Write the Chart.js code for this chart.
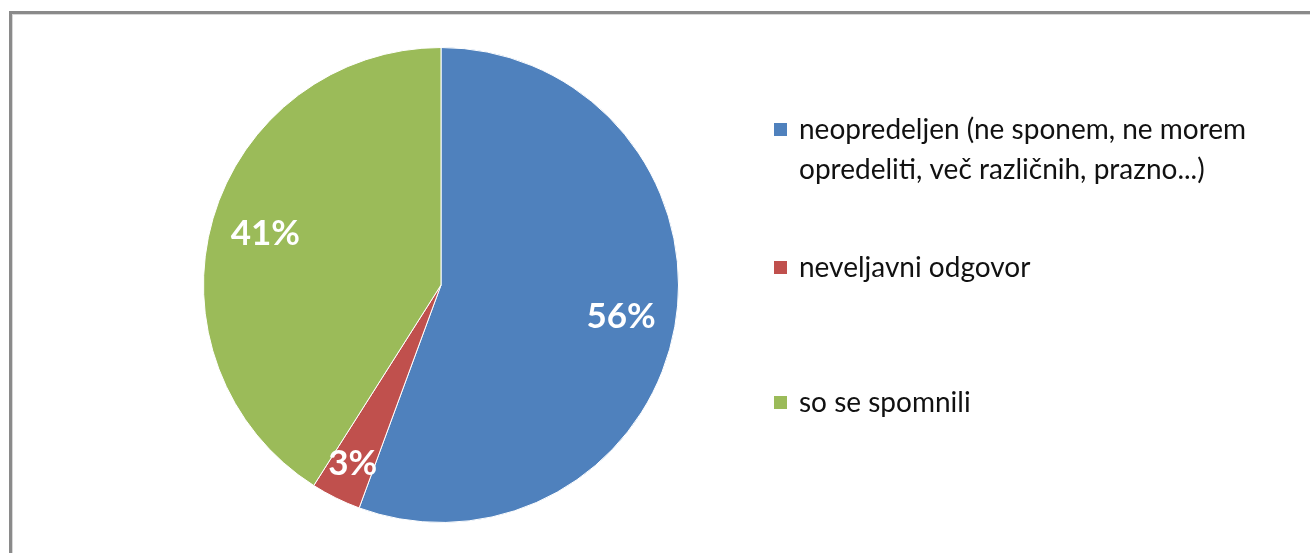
<!DOCTYPE html>
<html>
<head>
<meta charset="utf-8">
<script src="https://cdn.jsdelivr.net/npm/chart.js@4.4.0/dist/chart.umd.min.js"></script>
<style>
    html, body { margin: 0; padding: 0; background: #fff; overflow: hidden; }
    #frame {
        position: absolute;
        left: 9px;
        top: 11px;
        width: 1400px;
        height: 700px;
        border-left: 3px solid #8a8a8a;
        border-top: 3px solid #8a8a8a;
        box-shadow: inset 1px 1px 0 #d8d8d8;
    }
    #wrap { position: absolute; left: 0; top: 0; width: 1310px; height: 553px; }
</style>
</head>
<body>
<div id="frame"></div>
<div id="wrap"><canvas id="pieChart"></canvas></div>
<script>
// categories and values (percent)
const categories = [
    ['neopredeljen (ne sponem, ne morem', 'opredeliti, več različnih, prazno...)'],
    ['neveljavni odgovor'],
    ['so se spomnili'],
];
const shares = [55.6, 3.4, 41.0];
const sliceColors = ['#4f81bd', '#c0504d', '#9bbb59'];

// label distance from centre, as part of radius
const labelPos = [0.77, 0.84, 0.77];

const legendFont = '28px Lato';
const legendY = [130, 268, 403];

// percent labels inside the slices
const sliceLabels = {
    id: 'sliceLabels',
    afterDatasetsDraw(chart) {
        const ctx = chart.ctx;
        const meta = chart.getDatasetMeta(0);
        ctx.save();
        ctx.font = 'bold 35px Lato';
        ctx.fillStyle = '#fff';
        ctx.textAlign = 'center';
        ctx.textBaseline = 'middle';
        meta.data.forEach((arc, i) => {
            const mid = (arc.startAngle + arc.endAngle) / 2;
            const r = arc.outerRadius * labelPos[i];
            const x = arc.x + Math.cos(mid) * r;
            const y = arc.y + Math.sin(mid) * r;
            ctx.fillText(Math.round(shares[i]) + '%', x, y);
        });
        ctx.restore();
    }
};

// legend on the right, first entry wraps over two lines
const sideLegend = {
    id: 'sideLegend',
    afterDraw(chart) {
        const ctx = chart.ctx;
        ctx.save();
        ctx.font = legendFont;
        ctx.textBaseline = 'middle';
        categories.forEach((lines, i) => {
            const y = legendY[i];
            ctx.fillStyle = sliceColors[i];
            ctx.fillRect(774, y - 7, 13, 13);
            ctx.fillStyle = '#111';
            lines.forEach((t, j) => {
                ctx.fillText(t, 799, y + j * 40);
            });
        });
        ctx.restore();
    }
};

new Chart(document.getElementById('pieChart').getContext('2d'), {
    type: 'pie',
    data: {
        labels: categories.map(l => l.join(' ')),
        datasets: [{
            data: shares,
            backgroundColor: sliceColors,
            borderColor: '#ffffff',
            borderWidth: 1,
        }]
    },
    options: {
        responsive: true,
        maintainAspectRatio: false,
        animation: false,
        layout: {
            padding: {
                left: 203,
                right: 631,
                top: 47,
                bottom: 30,
            }
        },
        plugins: {
            legend: { display: false },
            tooltip: { enabled: false },
        }
    },
    plugins: [sliceLabels, sideLegend]
});
</script>
</body>
</html>
